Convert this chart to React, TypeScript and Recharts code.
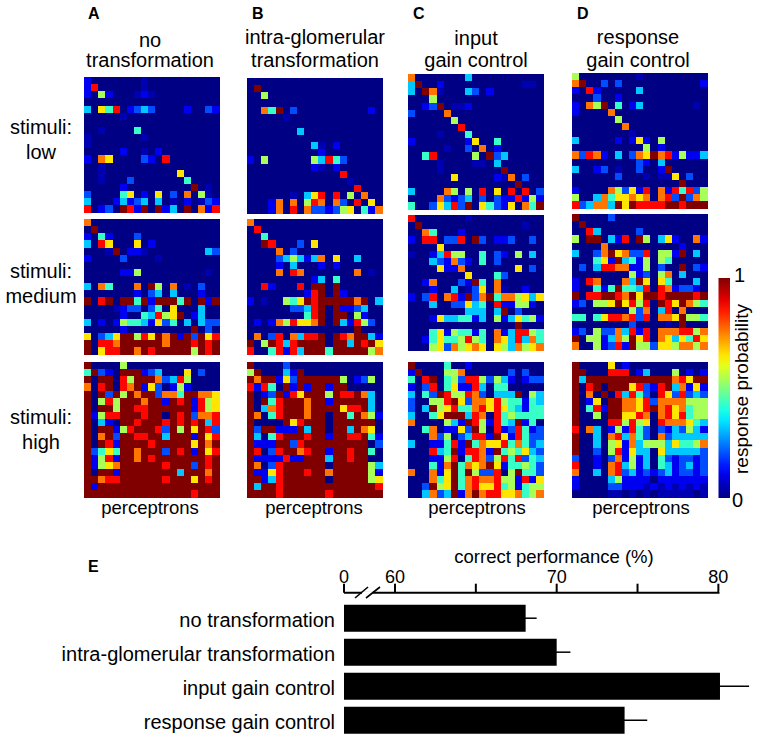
import React from "react";
import { ScatterChart, Scatter, XAxis, YAxis, BarChart, Bar, ErrorBar } from "recharts";

// Each heat map: 19 rows of 19 response levels, 0 (none) to 9 (certain); "a" is a faint level.
const lowNone = ["10000000a0000000000","18000000a0000000000","1051000a1a000000000","0000000000000000000","3064801232000010021","00000a0000000000000","0000000000000000000","00a0000400000000000","a0000000a0000000000","a000000000000000000","00000100a0100000000","1076000021080000000","00a0000000000000000","00a0000000000600000","00a0002000000040000","00000100000000090a0","20000460106020705a0","300013123030a010a21","8012098190913090718"];
const lowIntra = ["0000000000000000000","0900000000000000000","0050000000000000000","0000000000000000000","0074902000000000010","00000a0000000000000","0000000000000000000","0000000300000000000","0000000000000000000","0000000003a01000000","0000000000100000000","1050000005384200000","0000000001a01000000","0000000000000800000","00000000000000a0000","0000000000000008000","000000a036808050700","0001707058707208060","0001708072212560417"];
const lowInput = ["7000000030000000000","3900100000000000aa0","3097a00032010000000","0005000000000000000","001290aa10000000000","2000070000000000000","0000005000000000000","0000000800000000000","0000a00040000000000","1000000016004000000","00000a0020701000000","0048000005092300000","0000a0000aa03000000","0000a00000000900000","0000006000001a70200","0000000000000009000","3000075050806080802","0000721230202118151","4002638290642160749"];
const lowResponse = ["500000000a000000000","7900202000000000001","1081000003000000000","0002001000000000000","10759040130000000a0","1000070000000000000","0000005000000000000","0000000700000000000","00000000a0000000000","3000001016105000000","0000000000501000000","7287103027697815113","0000000002103000000","300120a002001900000","0000002000a0aa60200","0000000000000009000","1000075261807184825","5003746676707829275","8237739698888998999"];
const medNone = ["7000000000000000000","0900000000000000000","1041000200000000000","3086000601000000000","000a9011a0000000032","1000020000a00000000","0000000000000000000","00000115000000000a0","0000000000000000000","30740007095070a0200","0000000102303000100","9089099491999490919","0000a12202406000300","0000010043856901300","3010154431624030322","0000010000000009020","6023699586979192968","9088799999979998989","9068899798999995989"];
const medIntra = ["7000000000000000000","0800000000000000000","0040000000000000000","0098000206000000000","0000702000000000000","0000235313706003000","0000103000101000000","00007087000000070a0","0000000001304000000","0081000809909000000","0000000018909100000","10a0054698999997903","0000002238909112300","0000000048909905100","0101758667909318520","0000000000000009000","0702807388909879931","9059838999909939896","8004818399949999957"];
const medInput = ["80000000a0000000000","0900000000000000a00","0074000100000000000","1088022809201120020","0000600000000000000","a001385500402105030","0003217210402000000","0000611700000006020","0000000060004200000","0017000219407000000","00010030a2607a00100","1028078192794775636","0003002263408115510","0000000033303902000","0001633441305136451","0000000000000009000","0004615441407138854","0014644585407638374","0005627567606537567"];
const medResponse = ["9000020000000000000","0900000000000000000","0083000002000000000","5099031809503610071","0000700000000001000","3002796722805519030","0004619341505400000","0203887711502009021","0000000051205703000","1087000739606400030","1004149443808712210","9088998796998999989","1205569685809869754","0000000052703807000","4404688782807769554","0000000020000a09000","1205227381807778857","9055137596807636486","7005128195526657757"];
const highNone = ["9000050000000000000","4921099912300060200","9099085999723850000","7089087916201510000","9092959799277499776","9058599979919891856","9099599889999991856","9158899989909892778","9031099899989898938","9099158999829596982","9079299889939991968","9098199998999996979","9246499799929891968","9158199798999999989","9156799999989992989","9099199999999399979","9978899999989996989","9199999999999999999","9999999999999998999"];
const highIntra = ["9000020000000000000","5900031900000000000","9799162999999501250","8184091919919900000","9012918699959889730","9094899979919999930","9037899979999688930","9704899979909949751","9000096899909999990","9299111939909939760","9304899989919988941","9111992899999999902","9802899789919989940","9111181199939989900","9702899999909999953","9116899989979999951","9913899999909999956","9399899999999999998","9999899999989999999"];
const highInput = ["9000040010000000000","1900055700000020200","4089045288525310122","1028046118304400000","3042985587203339053","2005589627768544143","2039568447868643144","3004699938708454444","7000053198518439140","0047011629508128412","0007250238819618422","3001148194766847423","0008349188719454632","0001158048725848243","0004179476796144542","7007169495228059442","0007469478778551816","0029569478668451455","0037239179788667457"];
const highResponse = ["9000060100000000000","9900088801300050101","9399999999999978699","9089099968218937161","9070908384208628232","9016099776827777555","9048199776897867455","9005099668707868455","9000088585608777643","8073015184202132531","9003078374207233333","9003056173555364457","9002058163306333332","2001027151304212212","8001078351304312312","7003078231212312212","1000035111101111111","1000022111a1a1a1a1a","00000aa0a0a0aaaaa0a"];

// Bar chart values
const barCategories = ["no transformation", "intra-glomerular transformation", "input gain control", "response gain control"];
const barValues = [68.08, 70.0, 80.1, 74.2];
const barErrors = [0.68, 0.85, 1.8, 1.4];
const axisTicks = [56.846, 60, 65, 70, 75, 80];
const axisTickLabels = ["0", "60", "", "70", "", "80"];

const LEVELS: Record<string, number> = { "0": 0, a: 0.05, "1": 0.11, "2": 0.2, "3": 0.32, "4": 0.43, "5": 0.54, "6": 0.65, "7": 0.76, "8": 0.87, "9": 1 };
const GRID = 19;
const CELL = 135.5 / GRID;
const FONT = "'Liberation Sans', Arial, sans-serif";

const clip = (n: number) => Math.max(0, Math.min(1, n));
function jet(v: number) {
  const r = clip(1.5 - Math.abs(4 * v - 3));
  const g = clip(1.5 - Math.abs(4 * v - 2));
  const b = clip(1.5 - Math.abs(4 * v - 1));
  return `rgb(${Math.round(r * 255)},${Math.round(g * 255)},${Math.round(Math.max(b, v < 0.2 ? 0.52 : 0) * 255)})`;
}

function toCells(rows: string[]) {
  const cells: { x: number; y: number; v: number }[] = [];
  rows.forEach((row, r) => {
    for (let c = 0; c < GRID; c++) cells.push({ x: c + 0.5, y: r + 0.5, v: LEVELS[row[c] ?? "0"] ?? 0 });
  });
  return cells;
}

const cellShape = (p: any) => (
  <rect x={p.cx - CELL / 2} y={p.cy - CELL / 2} width={CELL + 0.4} height={CELL + 0.4} fill={jet(p.payload.v)} shapeRendering="crispEdges" />
);

function Heat({ rows, left, top }: { rows: string[]; left: number; top: number }) {
  return (
    <div style={{ position: "absolute", left, top, filter: "blur(0.45px)" }}>
      <ScatterChart width={136} height={136} margin={{ top: 0, right: 0.5, bottom: 0.5, left: 0 }}>
        <XAxis type="number" dataKey="x" domain={[0, GRID]} hide />
        <YAxis type="number" dataKey="y" domain={[0, GRID]} reversed hide />
        <Scatter data={toCells(rows)} shape={cellShape} isAnimationActive={false} />
      </ScatterChart>
    </div>
  );
}

const maps: [string[], number, number][] = [
  [lowNone, 84, 77], [lowIntra, 247, 78], [lowInput, 408, 74], [lowResponse, 572, 73],
  [medNone, 84, 219], [medIntra, 247, 219], [medInput, 408, 215], [medResponse, 572, 214],
  [highNone, 84, 362], [highIntra, 247, 362], [highInput, 408, 362], [highResponse, 572, 362],
];

const barData = barCategories.map((name, i) => ({ name, value: barValues[i], err: barErrors[i] }));

const T = (p: any) => <text fontFamily={FONT} fill="#000" {...p} />;

export default function App() {
  const stops = Array.from({ length: 21 }, (_, i) => i / 20);
  return (
    <div style={{ position: "absolute", left: 0, top: 0, width: 760, height: 746, background: "#fff", overflow: "hidden" }}>
      {maps.map(([rows, l, t], i) => <Heat key={i} rows={rows} left={l} top={t} />)}

      <div style={{ position: "absolute", left: 0, top: 540 }}>
        <BarChart width={760} height={206} layout="vertical" data={barData} margin={{ top: 22.7, right: 8, bottom: 8.4, left: 4 }}>
          <XAxis type="number" orientation="top" domain={[56.846, 82.08]} ticks={axisTicks} allowDataOverflow height={30}
            tickFormatter={(v: number) => axisTickLabels[axisTicks.indexOf(v)] ?? ""}
            axisLine={{ stroke: "#000", strokeWidth: 2 }} tickLine={{ stroke: "#000", strokeWidth: 2 }} tickSize={9} tickMargin={1}
            tick={{ fill: "#000", fontSize: 18, fontFamily: FONT }} interval={0} />
          <YAxis type="category" dataKey="name" width={340} padding={{ top: 9, bottom: 0 }} axisLine={false} tickLine={false} tickMargin={3} interval={0}
            tick={{ fill: "#000", fontSize: 20, fontFamily: FONT, dy: 1 }} />
          <Bar dataKey="value" fill="#000" barSize={27} isAnimationActive={false}>
            <ErrorBar dataKey="err" direction="x" width={0} stroke="#000" strokeWidth={1.5} />
          </Bar>
        </BarChart>
      </div>

      <svg width={760} height={746} style={{ position: "absolute", left: 0, top: 0, pointerEvents: "none" }}>
        <defs>
          <linearGradient id="jetbar" x1="0" y1="1" x2="0" y2="0">
            {stops.map((s) => <stop key={s} offset={s} stopColor={jet(s)} />)}
          </linearGradient>
        </defs>
        <rect x={718.5} y={278} width={11.5} height={220} fill="url(#jetbar)" />
        <T x={734} y={282} fontSize={20}>1</T>
        <T x={732} y={507} fontSize={20}>0</T>
        <T x={0} y={0} fontSize={19} textAnchor="middle" transform="translate(748,389) rotate(-90)">response probability</T>

        {[["A", 88], ["B", 252], ["C", 413], ["D", 577]].map(([s, x]) => (
          <T key={s as string} x={x as number} y={19} fontSize={16} fontWeight="bold">{s}</T>
        ))}
        <T x={88} y={572} fontSize={16} fontWeight="bold">E</T>

        {[
          ["no", "transformation", 150, 47],
          ["intra-glomerular", "transformation", 315, 44],
          ["input", "gain control", 476, 45],
          ["response", "gain control", 638, 44],
        ].map(([a, b, x, y]) => (
          <g key={a as string} textAnchor="middle">
            <T x={x as number} y={y as number} fontSize={20}>{a}</T>
            <T x={x as number} y={67} fontSize={20}>{b}</T>
          </g>
        ))}

        {[["low", 134, 41], ["medium", 278, 41], ["high", 424, 41]].map(([b, y, x]) => (
          <g key={b as string} textAnchor="middle">
            <T x={x as number} y={y as number} fontSize={20}>stimuli:</T>
            <T x={x as number} y={(y as number) + 25} fontSize={20}>{b}</T>
          </g>
        ))}

        {[150, 314, 477, 641].map((x) => (
          <T key={x} x={x} y={514} fontSize={18.5} textAnchor="middle">perceptrons</T>
        ))}

        <T x={554} y={563} fontSize={18.5} textAnchor="middle">correct performance (%)</T>

        <line x1={719.5} y1={592.7} x2={756} y2={592.7} stroke="#fff" strokeWidth={4} />
        <line x1={362} y1={592.7} x2={373} y2={592.7} stroke="#fff" strokeWidth={3} />
        <line x1={355} y1={598} x2={368} y2={587} stroke="#000" strokeWidth={1.6} />
        <line x1={366} y1={598} x2={380} y2={587} stroke="#000" strokeWidth={1.6} />
      </svg>
    </div>
  );
}
